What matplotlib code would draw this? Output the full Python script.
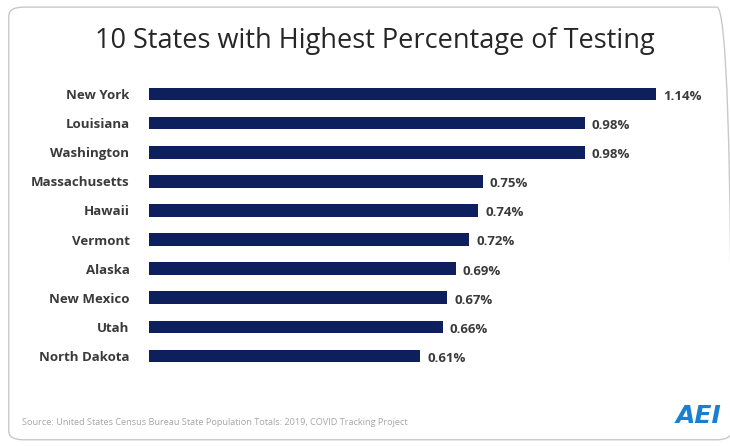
import matplotlib.pyplot as plt
from matplotlib.patches import FancyBboxPatch

states = ["New York", "Louisiana", "Washington", "Massachusetts", "Hawaii",
          "Vermont", "Alaska", "New Mexico", "Utah", "North Dakota"]
pct = [1.14, 0.98, 0.98, 0.75, 0.74, 0.72, 0.69, 0.67, 0.66, 0.61]
value_labels = ["1.14%", "0.98%", "0.98%", "0.75%", "0.74%",
                "0.72%", "0.69%", "0.67%", "0.66%", "0.61%"]

BAR = "#0d1f5c"
TXT = "#3a3a3a"

fig = plt.figure(figsize=(7.30, 4.46), dpi=100)

# rounded frame around the chart
frame = FancyBboxPatch((0.012, 0.014), 0.99, 0.97,
                       boxstyle="round,pad=0,rounding_size=0.02",
                       transform=fig.transFigure, fill=False,
                       edgecolor="#c8c8c8", linewidth=1.0)
fig.patches.append(frame)

ax = fig.add_axes([0.204, 0.169, 0.755, 0.653])
y = list(range(len(states)))
ax.barh(y, pct, height=0.44, color=BAR)
ax.set_ylim(len(states) - 0.5, -0.5)
ax.set_xlim(0, 1.239)

for i, (v, lab) in enumerate(zip(pct, value_labels)):
    ax.text(v + 0.016, i + 0.08, lab, va="center", ha="left",
            fontsize=9.5, fontweight="bold", color=TXT, family="Open Sans")

ax.set_yticks(y)
ax.set_yticklabels(states, fontsize=9.5, fontweight="bold", color=TXT,
                   family="Open Sans")
ax.tick_params(axis="y", length=0, pad=14)
ax.set_xticks([])
for s in ax.spines.values():
    s.set_visible(False)

fig.text(0.514, 0.908, "10 States with Highest Percentage of Testing",
         ha="center", va="center", fontsize=19.5, color="#262626",
         family="Open Sans")

fig.text(0.03, 0.053, "Source: United States Census Bureau State Population Totals: 2019, COVID Tracking Project",
         ha="left", va="center", fontsize=6.6, color="#a6a6a6",
         family="Open Sans")

fig.text(0.957, 0.068, "AEI", ha="center", va="center", fontsize=18,
         fontweight="bold", fontstyle="italic", color="#1a7fd0",
         family="DejaVu Sans")

fig.savefig("out.png", dpi=100)
